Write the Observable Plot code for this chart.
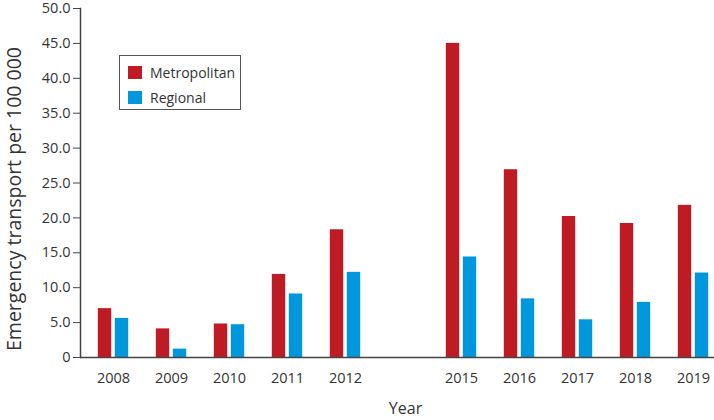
<!DOCTYPE html>
<html>
<head>
<meta charset="utf-8">
<script src="https://cdn.jsdelivr.net/npm/d3@7"></script>
<script src="https://cdn.jsdelivr.net/npm/@observablehq/plot@0.6"></script>
<style>
  html, body { margin: 0; padding: 0; background: #fff; }
  #wrap { position: relative; width: 714px; height: 420px; font-family: "Open Sans", sans-serif; }
  #legend {
    position: absolute; left: 119px; top: 55px; width: 122px; height: 55px;
    border: 1px solid #555; box-sizing: border-box; background: #fff;
    font-size: 14px; color: #333;
  }
  .item { position: absolute; left: 8px; display: flex; align-items: center; }
  .sw { width: 14px; height: 13px; margin-right: 8px; }
</style>
</head>
<body>
<div id="wrap"></div>
<script>
const years = [2008, 2009, 2010, 2011, 2012, 2015, 2016, 2017, 2018, 2019];
const metropolitan = [7.0, 4.1, 4.8, 11.9, 18.3, 45.0, 26.9, 20.2, 19.2, 21.8];
const regional = [5.6, 1.2, 4.7, 9.1, 12.2, 14.4, 8.4, 5.4, 7.9, 12.1];
const seriesNames = ["Metropolitan", "Regional"];
const seriesColors = ["#bf1b24", "#0097dc"];
const yTicks = [0, 5, 10, 15, 20, 25, 30, 35, 40, 45, 50];
const yLabel = "Emergency transport per 100 000";
const xLabel = "Year";

const GAP = "gap";
const xDomain = [
  ...years.filter(y => y < 2013).map(String),
  GAP,
  ...years.filter(y => y > 2013).map(String)
];
const metroRows = years.map((y, i) => ({year: String(y), series: seriesNames[0], value: metropolitan[i]}));
const regRows = years.map((y, i) => ({year: String(y), series: seriesNames[1], value: regional[i]}));

const chart = Plot.plot({
  width: 714,
  height: 420,
  marginTop: 8,
  marginBottom: 63,
  marginLeft: 80,
  marginRight: 0,
  style: {fontFamily: "Open Sans", fontSize: "14px", color: "#333", background: "white", overflow: "visible"},
  x: {type: "band", domain: xDomain, range: [81.2, 725.8], padding: 0},
  y: {domain: [0, 50]},
  marks: [
    Plot.barY(metroRows, {x: "year", y: "value", fill: seriesColors[0], insetLeft: 13.8, insetRight: 30.8}),
    Plot.barY(regRows, {x: "year", y: "value", fill: seriesColors[1], insetLeft: 30.8, insetRight: 13.8}),
    Plot.axisY({ticks: yTicks, tickFormat: d => d === 0 ? "0" : d.toFixed(1), tickSize: 7, tickPadding: 3,
      label: null, fontSize: 14.5, stroke: "#444", fill: "#333"}),
    Plot.axisX({tickSize: 0, tickPadding: 15, tickFormat: d => d === GAP ? "" : d, label: null, fontSize: 14.5, fill: "#333"}),
    Plot.ruleY([0], {stroke: "#444", strokeWidth: 1.5}),
    Plot.frame({anchor: "left", stroke: "#444", strokeWidth: 1.5}),
    Plot.text([xLabel], {frameAnchor: "bottom", dx: 8, dy: 51, fontSize: 16, fill: "#333", lineAnchor: "middle"}),
    Plot.text([yLabel], {frameAnchor: "left", dx: -66, dy: 16, rotate: -90, fontSize: 19.5, fill: "#333",
      textAnchor: "middle", lineAnchor: "middle"})
  ]
});

const wrap = document.getElementById("wrap");
wrap.appendChild(chart);

const legend = document.createElement("div");
legend.id = "legend";
seriesNames.forEach((name, i) => {
  const item = document.createElement("div");
  item.className = "item";
  item.style.top = (i === 0 ? 7 : 32) + "px";
  const sw = document.createElement("span");
  sw.className = "sw";
  sw.style.background = seriesColors[i];
  const label = document.createElement("span");
  label.textContent = name;
  item.appendChild(sw);
  item.appendChild(label);
  legend.appendChild(item);
});
wrap.appendChild(legend);
</script>
</body>
</html>
